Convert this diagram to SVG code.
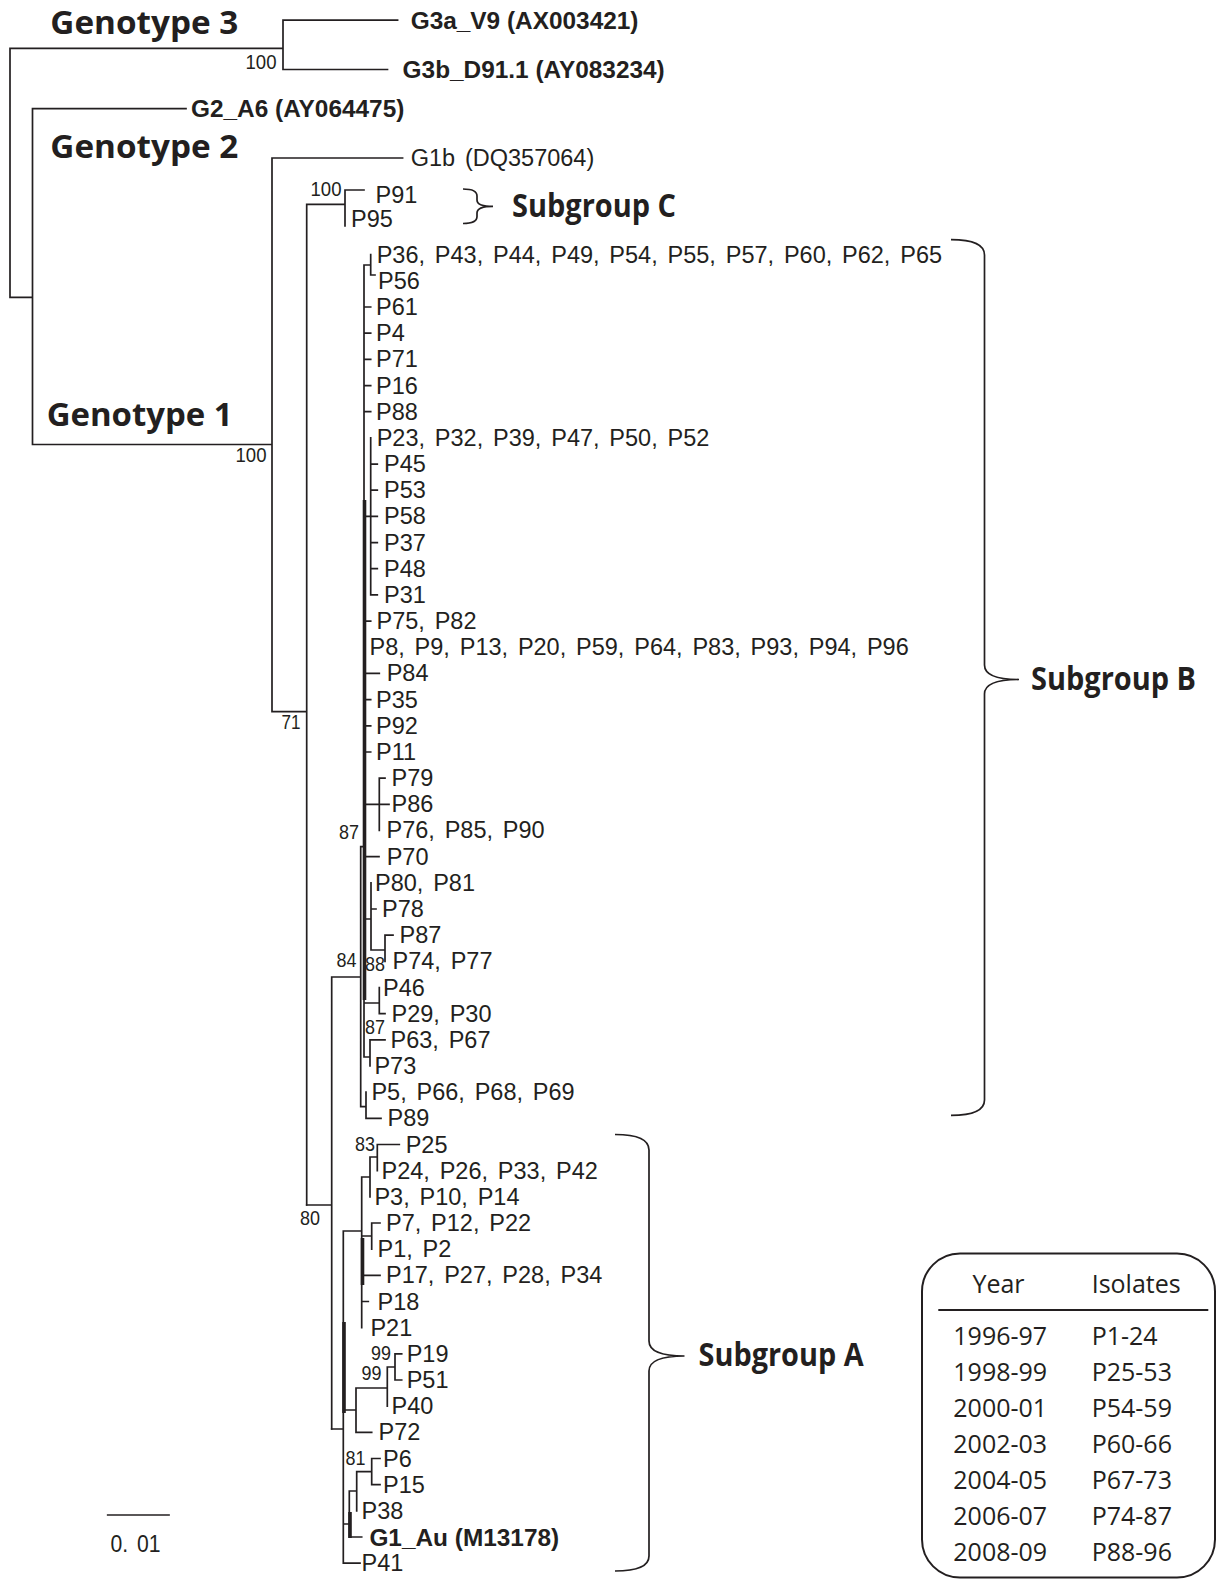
<svg xmlns="http://www.w3.org/2000/svg" width="1220" height="1579" viewBox="0 0 1220 1579">
<style>
.br{fill:none;stroke:#231f20;stroke-width:1.7;stroke-linecap:square}
.thk{fill:none;stroke:#231f20;stroke-width:3.6}
.lf{font-family:"Liberation Sans",Arial,sans-serif;font-size:23.5px;fill:#231f20;dominant-baseline:central;word-spacing:3.3px}
.bd{font-family:"Liberation Sans",Arial,sans-serif;font-size:24.4px;font-weight:bold;fill:#231f20;dominant-baseline:central}
.bs{font-family:"Liberation Sans",Arial,sans-serif;font-size:20px;fill:#231f20;dominant-baseline:central;text-anchor:middle}
.gt{font-family:"Open Sans",sans-serif;font-size:32px;font-weight:bold;fill:#231f20}
.lg{font-family:"Open Sans",sans-serif;font-size:25px;fill:#231f20}
.brace{fill:none;stroke:#231f20;stroke-width:1.7}
</style>
<rect width="1220" height="1579" fill="#fff"/>
<g id="connectors">
<path class="br" d="M10 48.3V297.3M10 48.3H283M283 20.1V69.5M283 20.1H397.6M283 69.5H387.5M10 297.3H32.5M32.5 108.7V444.5M32.5 108.7H186M32.5 444.5H272M272 158V711.7M272 158H402.6M272 711.7H306.7M306.7 204.3V1205M306.7 204.3H345M345 190V226M345 190H364"/>
<path class="br" d="M306.7 1205H331.7M331.7 977V1429M331.7 977H360.7M360.7 846.7V1106.7M360.7 846.7H364M364 265V1057M364 265H370.7M370.7 254.7V275M370.7 275H375M364 307H370.7M364 333.2H370.7M364 359.4H370.7M364 385.6H370.7M364 411.7H370.7M370.7 437.9V594.9M370.7 464.1H377.3M370.7 490.2H377.3M364 516.4H377.3M370.7 542.6H377.3M370.7 568.7H377.3M370.7 594.9H377.3M364 621.1H370.7M364 673.4H379.3M364 699.6H370.7M364 725.8H370.7M364 752H370.7M379.3 778.1V830.4M379.3 778.1H385M364 804.3H389M364 856.6H379M371 882.8V950M371 909H376M364 919H371M371 950H385M385 935.1V961.3M385 935.1H393M364 1003H379.3M379.3 987.5V1013.6M379.3 1013.6H385M364 1057H370M370 1039.8V1066M370 1039.8H385M360.7 1106.7H366M366 1092.1V1118.3M366 1118.3H381"/>
<path class="br" d="M331.7 1429H343.3M343.3 1231V1563.2M343.3 1231H361.7M361.7 1177V1327.7M361.7 1177H370M370 1157V1196.8M370 1157H377.3M377.3 1144.5V1170.7M377.3 1144.5H399.3M361.7 1236H371.7M371.7 1223V1249.2M371.7 1223H380M361.7 1275.3H380M361.7 1301.5H368.3M343.3 1410H356M356 1388V1432.4M356 1388H387.3M387.3 1367V1406.2M387.3 1367H395M395 1353.8V1380M395 1353.8H401.7M395 1380H401.7M356 1432.4H371.7M343.3 1524H349.3M349.3 1491V1537M349.3 1491H356.7M356.7 1471.6V1510.9M356.7 1471.6H371.7M371.7 1458.5V1484.7M371.7 1458.5H380M371.7 1484.7H380M349.3 1537H361.7M343.3 1563.2H360"/>
<path class="thk" d="M364.5 500V1000M362.5 1238V1285M344 1322V1413M350 1512V1538"/>
</g>
<g id="genotype-labels">
<text class="gt" x="50.3" y="34.2" textLength="188" lengthAdjust="spacingAndGlyphs">Genotype 3</text>
<text class="gt" x="50.3" y="158" textLength="188" lengthAdjust="spacingAndGlyphs">Genotype 2</text>
<text class="gt" x="46.7" y="426" textLength="186" lengthAdjust="spacingAndGlyphs">Genotype 1</text>
</g>
<g id="bootstrap">
<text class="bs" x="261" y="62.4" textLength="31" lengthAdjust="spacingAndGlyphs">100</text>
<text class="bs" x="251" y="455" textLength="31" lengthAdjust="spacingAndGlyphs">100</text>
<text class="bs" x="326" y="189" textLength="31" lengthAdjust="spacingAndGlyphs">100</text>
<text class="bs" x="291" y="722" textLength="19" lengthAdjust="spacingAndGlyphs">71</text>
<text class="bs" x="349" y="832" textLength="20" lengthAdjust="spacingAndGlyphs">87</text>
<text class="bs" x="346.5" y="960" textLength="20" lengthAdjust="spacingAndGlyphs">84</text>
<text class="bs" x="375" y="964" textLength="20" lengthAdjust="spacingAndGlyphs">88</text>
<text class="bs" x="375" y="1026.5" textLength="20" lengthAdjust="spacingAndGlyphs">87</text>
<text class="bs" x="310" y="1218" textLength="20" lengthAdjust="spacingAndGlyphs">80</text>
<text class="bs" x="365" y="1143.5" textLength="20" lengthAdjust="spacingAndGlyphs">83</text>
<text class="bs" x="381" y="1353" textLength="20" lengthAdjust="spacingAndGlyphs">99</text>
<text class="bs" x="371.5" y="1373" textLength="20" lengthAdjust="spacingAndGlyphs">99</text>
<text class="bs" x="355.5" y="1457.6" textLength="20" lengthAdjust="spacingAndGlyphs">81</text>
</g>
<g id="n-G3a"><text class="bd" x="410.7" y="20.1">G3a_V9 (AX003421)</text></g>
<g id="n-G3b"><text class="bd" x="402.6" y="69.5">G3b_D91.1 (AY083234)</text></g>
<g id="n-G2"><text class="bd" x="191" y="108.7">G2_A6 (AY064475)</text></g>
<g id="n-G1b"><text class="lf" x="410.7" y="158">G1b (DQ357064)</text></g>
<g id="n-P91"><text class="lf" x="375.5" y="195.3">P91</text></g>
<g id="n-P95"><text class="lf" x="351" y="219.4">P95</text></g>
<g id="n-P36"><text class="lf" x="376.7" y="254.7">P36, P43, P44, P49, P54, P55, P57, P60, P62, P65</text></g>
<g id="n-P56"><text class="lf" x="378" y="280.9">P56</text></g>
<g id="n-P61"><text class="lf" x="376" y="307">P61</text></g>
<g id="n-P4"><text class="lf" x="376" y="333.2">P4</text></g>
<g id="n-P71"><text class="lf" x="376" y="359.4">P71</text></g>
<g id="n-P16"><text class="lf" x="376" y="385.6">P16</text></g>
<g id="n-P88"><text class="lf" x="376" y="411.7">P88</text></g>
<g id="n-P23"><text class="lf" x="376.7" y="437.9">P23, P32, P39, P47, P50, P52</text></g>
<g id="n-P45"><text class="lf" x="384" y="464.1">P45</text></g>
<g id="n-P53"><text class="lf" x="384" y="490.2">P53</text></g>
<g id="n-P58"><text class="lf" x="384" y="516.4">P58</text></g>
<g id="n-P37"><text class="lf" x="384" y="542.6">P37</text></g>
<g id="n-P48"><text class="lf" x="384" y="568.7">P48</text></g>
<g id="n-P31"><text class="lf" x="384" y="594.9">P31</text></g>
<g id="n-P75"><text class="lf" x="376.5" y="621.1">P75, P82</text></g>
<g id="n-P8"><text class="lf" x="369.5" y="647.3">P8, P9, P13, P20, P59, P64, P83, P93, P94, P96</text></g>
<g id="n-P84"><text class="lf" x="386.7" y="673.4">P84</text></g>
<g id="n-P35"><text class="lf" x="376" y="699.6">P35</text></g>
<g id="n-P92"><text class="lf" x="376" y="725.8">P92</text></g>
<g id="n-P11"><text class="lf" x="376" y="752">P11</text></g>
<g id="n-P79"><text class="lf" x="391.5" y="778.1">P79</text></g>
<g id="n-P86"><text class="lf" x="391.5" y="804.3">P86</text></g>
<g id="n-P76"><text class="lf" x="386.5" y="830.4">P76, P85, P90</text></g>
<g id="n-P70"><text class="lf" x="386.7" y="856.6">P70</text></g>
<g id="n-P80"><text class="lf" x="375" y="882.8">P80, P81</text></g>
<g id="n-P78"><text class="lf" x="382" y="909">P78</text></g>
<g id="n-P87"><text class="lf" x="399.5" y="935.1">P87</text></g>
<g id="n-P74"><text class="lf" x="392.5" y="961.3">P74, P77</text></g>
<g id="n-P46"><text class="lf" x="383" y="987.5">P46</text></g>
<g id="n-P29"><text class="lf" x="391.5" y="1013.6">P29, P30</text></g>
<g id="n-P63"><text class="lf" x="390.5" y="1039.8">P63, P67</text></g>
<g id="n-P73"><text class="lf" x="374.4" y="1066">P73</text></g>
<g id="n-P5"><text class="lf" x="371.4" y="1092.1">P5, P66, P68, P69</text></g>
<g id="n-P89"><text class="lf" x="387.5" y="1118.3">P89</text></g>
<g id="n-P25"><text class="lf" x="405.7" y="1144.5">P25</text></g>
<g id="n-P24"><text class="lf" x="381.5" y="1170.7">P24, P26, P33, P42</text></g>
<g id="n-P3"><text class="lf" x="374.4" y="1196.8">P3, P10, P14</text></g>
<g id="n-P7"><text class="lf" x="386" y="1223">P7, P12, P22</text></g>
<g id="n-P1"><text class="lf" x="377.5" y="1249.2">P1, P2</text></g>
<g id="n-P17"><text class="lf" x="386" y="1275.3">P17, P27, P28, P34</text></g>
<g id="n-P18"><text class="lf" x="377.5" y="1301.5">P18</text></g>
<g id="n-P21"><text class="lf" x="370.4" y="1327.7">P21</text></g>
<g id="n-P19"><text class="lf" x="406.7" y="1353.8">P19</text></g>
<g id="n-P51"><text class="lf" x="406.7" y="1380">P51</text></g>
<g id="n-P40"><text class="lf" x="391.6" y="1406.2">P40</text></g>
<g id="n-P72"><text class="lf" x="378.5" y="1432.4">P72</text></g>
<g id="n-P6"><text class="lf" x="383" y="1458.5">P6</text></g>
<g id="n-P15"><text class="lf" x="383" y="1484.7">P15</text></g>
<g id="n-P38"><text class="lf" x="361.5" y="1510.9">P38</text></g>
<g id="n-G1Au"><text class="bd" x="369.4" y="1537">G1_Au (M13178)</text></g>
<g id="n-P41"><text class="lf" x="361.5" y="1563.2">P41</text></g>
<g id="subgroups">
<path class="brace" d="M463 189Q477 189 477 196V200Q477 206.4 493 206.4Q477 206.4 477 213V216.5Q477 223.5 463 223.5"/>
<text class="gt" x="512" y="217.4" textLength="164" lengthAdjust="spacingAndGlyphs">Subgroup C</text>
<path class="brace" d="M951 239.6Q984.5 239.6 984.5 255V665Q984.5 679.5 1019 679.5Q984.5 679.5 984.5 694V1100Q984.5 1115.3 951 1115.3"/>
<text class="gt" x="1031" y="689.5" textLength="165" lengthAdjust="spacingAndGlyphs">Subgroup B</text>
<path class="brace" d="M615 1134.5Q649 1134.5 649 1150V1341Q649 1356 684.5 1356Q649 1356 649 1371V1556Q649 1571 615 1571"/>
<text class="gt" x="698.6" y="1366" textLength="165" lengthAdjust="spacingAndGlyphs">Subgroup A</text>
</g>
<g id="scale-bar">
<path class="br" d="M107.7 1515H169"/>
<text class="lf" x="110.5" y="1543" style="font-size:24px" textLength="50" lengthAdjust="spacingAndGlyphs">0. 01</text>
</g>
<g id="legend">
<rect x="922" y="1253.5" width="293" height="324" rx="38" fill="none" stroke="#231f20" stroke-width="2"/>
<path d="M938.3 1310H1208.3" stroke="#231f20" stroke-width="2"/>
<text class="lg" x="998.5" y="1293.3" text-anchor="middle">Year</text>
<text class="lg" x="1091.7" y="1293.3">Isolates</text>
<text class="lg" x="953.3" y="1345">1996-97</text><text class="lg" x="1091.7" y="1345">P1-24</text>
<text class="lg" x="953.3" y="1381">1998-99</text><text class="lg" x="1091.7" y="1381">P25-53</text>
<text class="lg" x="953.3" y="1417">2000-01</text><text class="lg" x="1091.7" y="1417">P54-59</text>
<text class="lg" x="953.3" y="1453">2002-03</text><text class="lg" x="1091.7" y="1453">P60-66</text>
<text class="lg" x="953.3" y="1489">2004-05</text><text class="lg" x="1091.7" y="1489">P67-73</text>
<text class="lg" x="953.3" y="1525">2006-07</text><text class="lg" x="1091.7" y="1525">P74-87</text>
<text class="lg" x="953.3" y="1561">2008-09</text><text class="lg" x="1091.7" y="1561">P88-96</text>
</g>
</svg>
